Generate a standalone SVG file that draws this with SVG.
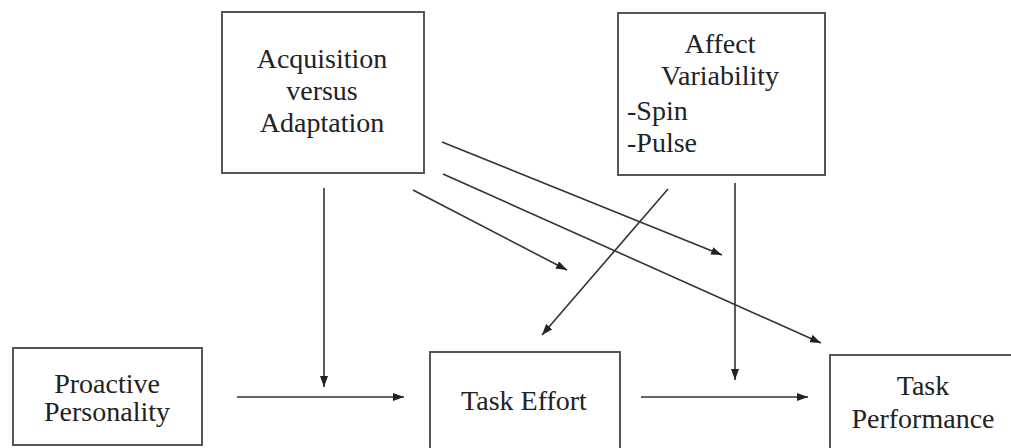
<svg xmlns="http://www.w3.org/2000/svg" width="1011" height="448" viewBox="0 0 1011 448">
<style>
.box{fill:#fff;stroke:#555;stroke-width:2}
.t{font-family:"Liberation Serif","Times New Roman",serif;font-size:28px;fill:#222;text-anchor:middle}
.l{text-anchor:start}
.c{stroke:#333;stroke-width:1.6;fill:none;marker-end:url(#ah)}
</style>
<defs>
<marker id="ah" markerUnits="userSpaceOnUse" markerWidth="12" markerHeight="9" refX="11" refY="4" orient="auto">
<path d="M0,0 L11,4 L0,8 z" fill="#222"/>
</marker>
</defs>
<rect width="1011" height="448" fill="#fff"/>
<g id="acq">
<rect class="box" x="222" y="12" width="202" height="161"/>
<text class="t" x="322" y="68">Acquisition</text>
<text class="t" x="322" y="100">versus</text>
<text class="t" x="322" y="132">Adaptation</text>
</g>
<g id="affect">
<rect class="box" x="618" y="13" width="207" height="162"/>
<text class="t" x="720" y="53">Affect</text>
<text class="t" x="720" y="85">Variability</text>
<text class="t l" x="627" y="120">-Spin</text>
<text class="t l" x="627" y="152">-Pulse</text>
</g>
<g id="proactive">
<rect class="box" x="13" y="348" width="189" height="97"/>
<text class="t" x="107" y="393">Proactive</text>
<text class="t" x="107" y="421">Personality</text>
</g>
<g id="effort">
<rect class="box" x="430" y="352" width="190" height="100"/>
<text class="t" x="524" y="410">Task Effort</text>
</g>
<g id="performance">
<rect class="box" x="830" y="355" width="185" height="100"/>
<text class="t" x="923" y="395">Task</text>
<text class="t" x="923" y="428">Performance</text>
</g>
<g id="connectors">
<line class="c" x1="237" y1="397" x2="404" y2="397"/>
<line class="c" x1="641" y1="397" x2="808" y2="397"/>
<line class="c" x1="324" y1="188" x2="324" y2="387"/>
<line class="c" x1="735" y1="183" x2="735" y2="380"/>
<line class="c" x1="442" y1="142" x2="722" y2="255"/>
<line class="c" x1="443" y1="174" x2="821" y2="343"/>
<line class="c" x1="413" y1="190" x2="567" y2="270"/>
<line class="c" x1="668" y1="189" x2="542" y2="335"/>
</g>
</svg>
